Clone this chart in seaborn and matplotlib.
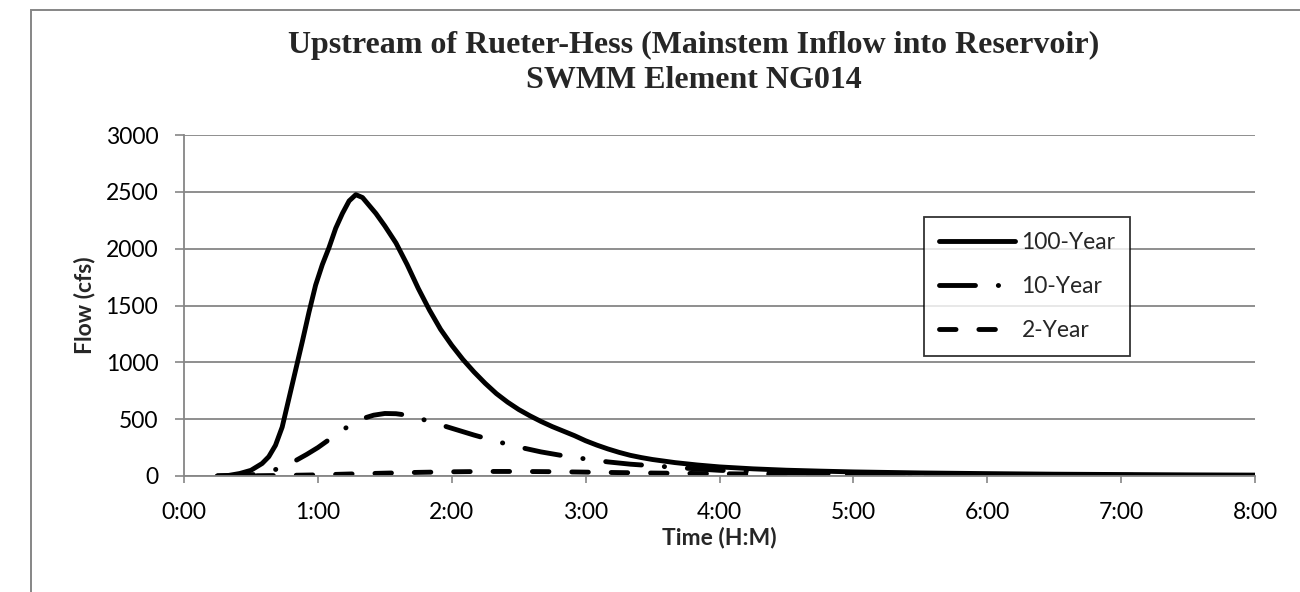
import matplotlib
matplotlib.use("Agg")
import matplotlib.pyplot as plt
import seaborn as sns
import pandas as pd
from matplotlib.patches import Rectangle

# Hydrograph ordinates (minutes from start, flow in cfs)
t_100 = [15, 20, 25, 30, 35, 38, 41, 44, 47, 50, 53, 56, 59, 62, 65, 68, 71,
         74, 77, 80, 83, 86, 90, 95, 100, 105, 110, 115, 120, 125, 130, 135,
         140, 145, 150, 155, 160, 165, 170, 175, 180, 185, 190, 195, 200, 205,
         210, 220, 230, 240, 255, 270, 285, 300, 330, 360, 390, 420, 450, 480]
q_100 = [0, 5, 22, 50, 110, 170, 270, 430, 680, 930, 1180, 1440, 1680, 1860,
         2010, 2180, 2310, 2420, 2475, 2450, 2380, 2310, 2200, 2050, 1860, 1650,
         1460, 1290, 1150, 1025, 915, 815, 725, 650, 585, 530, 480, 435, 395,
         355, 310, 272, 238, 208, 182, 162, 145, 118, 97, 80, 63, 51, 43, 36,
         27, 21, 16, 13, 10, 8]

t_10 = [15, 20, 25, 30, 35, 40, 45, 50, 55, 60, 65, 70, 75, 80, 85, 90, 95,
        100, 105, 110, 115, 120, 130, 140, 150, 160, 170, 180, 190, 200, 210,
        220, 230, 240, 255, 270, 300, 330, 360, 420, 480]
q_10 = [0, 2, 5, 10, 22, 50, 85, 135, 190, 250, 320, 390, 455, 505, 535, 550,
        548, 535, 510, 480, 450, 420, 360, 305, 255, 212, 178, 150, 124, 104,
        90, 76, 62, 50, 38, 28, 18, 13, 10, 6, 4]

t_2 = [15, 30, 45, 60, 75, 90, 105, 120, 135, 150, 165, 180, 195, 210, 240,
       270, 300, 360, 420, 480]
q_2 = [0, 2, 5, 10, 18, 25, 32, 37, 40, 40, 38, 34, 30, 26, 20, 15, 11, 7, 4, 3]

series_names = ["100-Year", "10-Year", "2-Year"]
x_ticks = [0, 60, 120, 180, 240, 300, 360, 420, 480]
x_tick_labels = ["0:00", "1:00", "2:00", "3:00", "4:00", "5:00", "6:00", "7:00", "8:00"]
y_ticks = [0, 500, 1000, 1500, 2000, 2500, 3000]

frames = []
for name, t, q in zip(series_names, [t_100, t_10, t_2], [q_100, q_10, q_2]):
    frames.append(pd.DataFrame({"Minutes": t, "Flow": q, "Event": name}))
df = pd.concat(frames, ignore_index=True)

sns.set_theme(style="white")
plt.rcParams["font.family"] = ["Lato", "DejaVu Sans"]
plt.rcParams["lines.dash_capstyle"] = "round"
plt.rcParams["lines.solid_capstyle"] = "round"
plt.rcParams["lines.solid_joinstyle"] = "round"
plt.rcParams["lines.dash_joinstyle"] = "round"

GRAY = "#868686"
DPI = 100
fig = plt.figure(figsize=(13.0, 5.92), dpi=DPI)
ax = fig.add_axes([184 / 1300, 1 - 476 / 592, (1255 - 184) / 1300, (476 - 135) / 592])

lw = 3.5
dash_styles = {
    "100-Year": "",
    "10-Year": (7.4, 4.7, 0.05, 4.7),
    "2-Year": (3.4, 4.7),
}
sns.lineplot(data=df, x="Minutes", y="Flow", hue="Event", style="Event",
             hue_order=series_names, style_order=series_names,
             palette=["black"] * 3, dashes=dash_styles, linewidth=lw,
             estimator=None, sort=False, ax=ax)

ax.set_xlim(0, 480)
ax.set_ylim(0, 3000)
ax.set_xticks(x_ticks)
ax.set_xticklabels(x_tick_labels)
ax.set_yticks(y_ticks)

tick_fs = 16.5
ax.tick_params(axis="both", labelsize=tick_fs, colors=GRAY, labelcolor="black")
ax.tick_params(axis="y", direction="out", length=6.5, width=1.2, left=True, pad=12)
ax.tick_params(axis="x", direction="out", length=5, width=1.2, bottom=True, pad=13.5)

ax.set_axisbelow(True)
ax.yaxis.grid(True, color=GRAY, linewidth=1.3)
ax.xaxis.grid(False)
for side in ["top", "right"]:
    ax.spines[side].set_visible(False)
for side in ["left", "bottom"]:
    ax.spines[side].set_color(GRAY)
    ax.spines[side].set_linewidth(1.3)

ax.set_xlabel("Time (H:M)", fontsize=16.5, fontweight="bold", labelpad=3)
ax.set_ylabel("Flow (cfs)", fontsize=16.5, fontweight="bold", labelpad=7)

handles, labels = ax.get_legend_handles_labels()
leg = ax.legend(handles, labels, loc="upper left",
                bbox_to_anchor=(924 / 1300, 1 - 217 / 592),
                bbox_transform=fig.transFigure, frameon=True, fancybox=False,
                fontsize=16.5, handlelength=3.3, handletextpad=0.3,
                labelspacing=1.0, borderpad=0.65, borderaxespad=0)
leg.get_frame().set_edgecolor("black")
leg.get_frame().set_linewidth(1.3)
for h in leg.get_lines():
    h.set_linewidth(lw)

title_font = ["Liberation Serif", "DejaVu Serif"]
fig.text(694 / 1300, 1 - 53 / 592,
         "Upstream of Rueter-Hess (Mainstem Inflow into Reservoir)",
         ha="center", va="baseline", fontsize=23, fontweight="bold", family=title_font)
fig.text(694 / 1300, 1 - 88 / 592, "SWMM Element NG014",
         ha="center", va="baseline", fontsize=23, fontweight="bold", family=title_font)

# Chart-area border
fig.patches.append(Rectangle((31 / 1300, -0.1), 1.2, 1 - 10 / 592 + 0.1,
                             transform=fig.transFigure, fill=False,
                             edgecolor=GRAY, linewidth=1.4))

fig.savefig("out.png", dpi=DPI)
